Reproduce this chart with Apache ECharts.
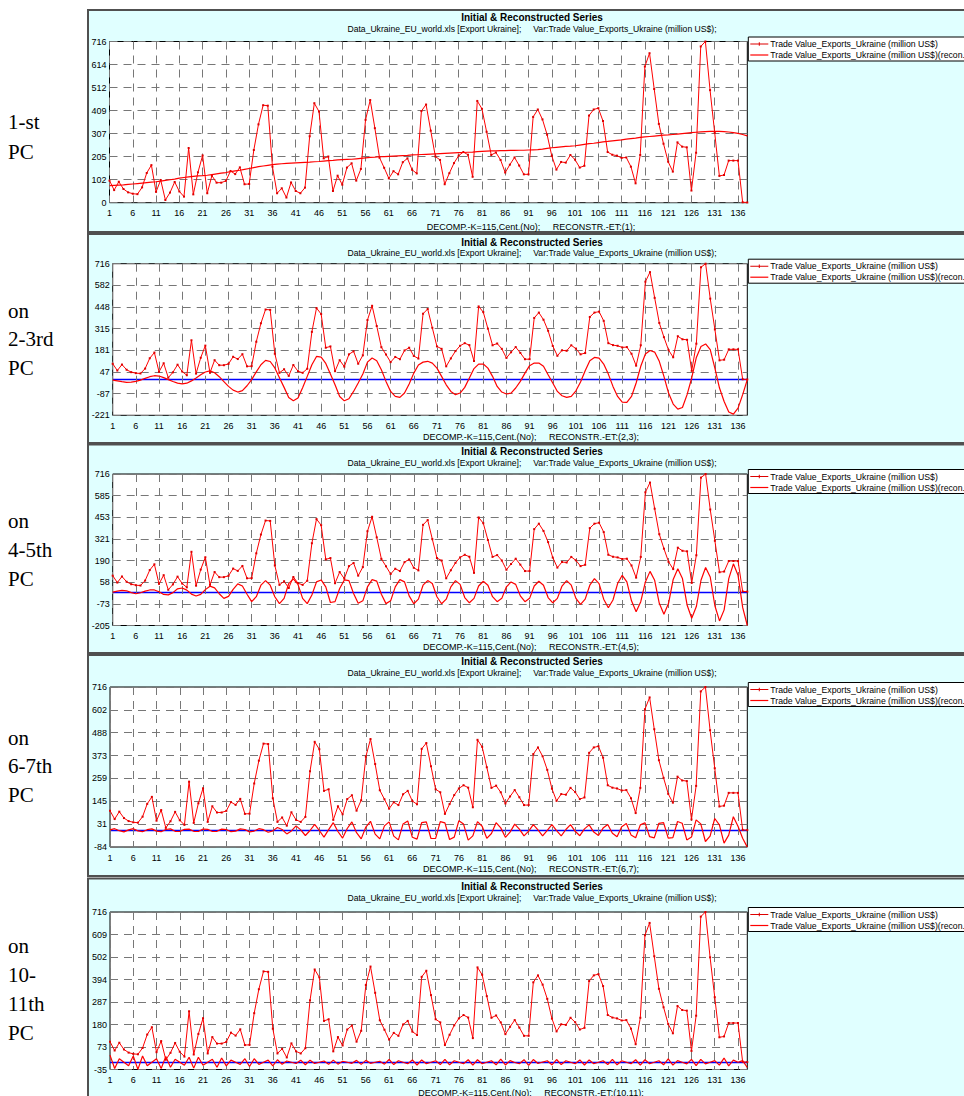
<!DOCTYPE html>
<html><head><meta charset="utf-8">
<script src="https://cdn.jsdelivr.net/npm/echarts@6/dist/echarts.min.js"></script>
<style>
html,body{margin:0;padding:0;overflow:hidden;background:#fff;width:964px;height:1096px}
#c{width:990px;height:1100px}
</style></head>
<body><div id="c"></div>
<script>
const categories = [];
for (let i = 1; i <= 138; i++) categories.push(String(i));

const initialSeries = [
 98,56,93,61,46,40,38,68,132,167,
 48,101,12,45,92,50,27,243,37,135,
 210,42,120,89,89,97,141,127,157,82,
 83,234,348,433,431,160,42,64,23,90,
 52,42,67,295,442,405,197,205,52,120,
 80,156,175,98,150,368,456,331,200,155,
 108,140,126,180,197,146,130,407,436,320,
 205,190,82,131,176,209,225,213,115,452,
 417,315,212,223,190,134,169,201,165,126,
 126,381,414,370,302,208,147,181,178,212,
 191,156,164,387,414,420,363,225,213,209,
 199,201,160,86,212,605,664,505,350,262,
 182,138,268,249,246,54,222,694,716,500,
 310,119,123,187,187,187,2,1];

const rc1 = [
 76,77,78,79,81,83,85,87,89,91,
 93,96,99,102,105,109,112,115,117,119,
 120,122,125,128,131,134,138,141,144,148,
 152,156,160,163,166,169,171,173,175,176,
 177,178,179,180,182,183,185,187,188,190,
 191,192,193,195,197,199,201,202,204,205,
 206,207,208,209,210,212,213,214,215,216,
 217,218,219,220,221,222,223,224,225,227,
 228,229,230,230,231,231,232,232,233,233,
 234,235,236,238,241,244,246,248,250,251,
 253,256,259,262,264,267,270,272,275,277,
 279,282,285,287,290,292,294,296,298,300,
 301,303,305,307,309,311,313,315,316,317,
 317,317,316,314,311,308,303,297];

const rc23 = [
 -3,-8,-13,-17,-16,-11,-3,8,18,24,
 22,12,0,-12,-22,-26,-22,-8,10,30,
 47,54,42,18,-12,-42,-65,-77,-68,-38,
 0,48,92,119,112,72,12,-48,-110,-131,
 -114,-50,20,92,143,139,100,35,-32,-104,
 -131,-118,-73,-21,35,108,133,117,61,-11,
 -73,-104,-110,-83,-27,40,90,108,113,102,
 71,20,-32,-73,-93,-83,-48,10,68,96,
 96,71,20,-42,-77,-89,-83,-52,-11,40,
 86,102,102,82,30,-21,-73,-100,-110,-104,
 -69,-15,55,117,137,133,96,34,-42,-104,
 -139,-141,-104,-21,82,158,180,170,113,20,
 -83,-151,-182,-172,-93,10,137,205,220,185,
 71,-52,-135,-200,-213,-176,-93,0];

const rc45 = [
 -2,4,8,6,-5,-12,-6,4,11,11,
 0,-16,-19,-5,18,23,10,-14,-26,-16,
 13,34,24,-12,-40,-28,15,48,35,-15,
 -60,-30,40,68,40,-30,-72,-40,50,78,
 45,-40,-72,-20,60,72,30,-65,-60,20,
 72,68,-10,-70,-55,30,74,65,-15,-72,
 -55,30,74,60,-25,-73,-45,40,68,50,
 -30,-73,-45,30,68,45,-35,-67,-40,35,
 64,40,-30,-60,-40,30,60,45,-25,-60,
 -40,35,64,40,-35,-67,-40,35,68,40,
 -40,-77,-45,40,80,50,-45,-97,-50,50,
 100,60,-55,-121,-60,60,124,70,-70,-137,
 -70,75,140,80,-80,-161,-90,70,148,90,
 -85,-177,-110,80,170,100,-95,-205];

const rc67 = [
 2,8,-2,-8,2,8,-3,-7,3,7,
 -4,-7,4,7,-5,-6,5,6,-5,-6,
 6,5,-6,-5,6,4,-7,-4,7,4,
 -8,-4,8,3,-10,-3,14,4,-18,-3,
 22,2,-26,-1,30,-1,-34,3,38,-6,
 -39,9,42,-12,-43,16,45,-19,-43,22,
 42,-29,-48,32,47,-35,-44,38,42,-41,
 -40,43,37,-46,-34,48,31,-49,-28,43,
 20,-40,-16,38,12,-35,-9,31,6,-28,
 -4,28,2,-28,0,28,-2,-28,4,28,
 -5,-27,7,27,-9,-26,11,29,-15,-32,
 18,34,-23,-37,27,38,-32,-38,35,38,
 -39,-37,44,35,-48,-34,52,32,-56,-29,
 59,27,-64,-24,68,20,-40,-84];

const rc1011 = [
 34,-30,17,0,-17,30,-34,30,-17,0,17,-30,
 28,-24,14,0,-14,24,-28,24,-14,0,14,-24,
 20,-17,10,0,-10,17,-20,17,-10,0,10,-17,
 12,-10,6,0,-6,10,-12,10,-6,0,6,-10,
 10,-9,5,0,-5,9,-10,9,-5,0,5,-9,
 13,-11,7,0,-7,11,-13,11,-7,0,7,-11,
 14,-12,7,0,-7,12,-14,12,-7,0,7,-12,
 15,-13,8,-1,-7,12,-15,13,-6,1,7,-12,
 13,-11,7,0,-7,11,-13,11,-7,0,7,-11,
 14,-12,7,0,-7,12,-14,12,-7,0,7,-12,
 16,-14,8,0,-8,14,-16,14,-8,0,8,-14,
 20,-17,10,0,8,-25];

const yTicks1 = ['0','102','205','307','409','512','614','716'];
const yTicks2 = ['-221','-87','47','181','315','448','582','716'];
const yTicks3 = ['-205','-73','58','190','321','453','585','716'];
const yTicks4 = ['-84','31','145','259','373','488','602','716'];
const yTicks5 = ['-35','73','180','287','394','502','609','716'];

const yRanges = [[0,716],[-220.5,716],[-205,716],[-83.5,716],[-34.5,716]];
const reconSets = ['(1)','(2,3)','(4,5)','(6,7)','(10,11)'];
const sideLabels = [['1-st','PC'],['on','2-3rd','PC'],['on','4-5th','PC'],['on','6-7th','PC'],['on','10-','11th','PC']];

const NAME_INIT = 'Trade Value_Exports_Ukraine (million US$)';
const NAME_REC = 'Trade Value_Exports_Ukraine (million US$)(recon.';
const TITLE = 'Initial & Reconstructed Series';
const SUBTITLE = 'Data_Ukraine_EU_world.xls [Export Ukraine];\u00a0\u00a0\u00a0\u00a0\u00a0Var:Trade Value_Exports_Ukraine (million US$);';

const layout = [
 {fT:10,  fB:232,  tY:17,  sY:28.5,  pT:41.5, pB:202.7, pL:109.5, bY:226.5, side:[122,152]},
 {fT:234, fB:443,  tY:242, sY:253, pT:263.7, pB:415.3, pL:112.7, bY:437, side:[311,339,368]},
 {fT:444.5, fB:653, tY:451.5, sY:462.5, pT:474, pB:625.5, pL:112.7, bY:647, side:[521,550,579]},
 {fT:655, fB:876,  tY:661.5, sY:672.5, pT:687, pB:847, pL:110, bY:869, side:[738,766,795]},
 {fT:878.5, fB:1102, tY:886.5, sY:897.5, pT:912, pB:1069.5, pL:110, bY:1093, side:[946,975,1004,1033]}
];
const PR = 747.3;
const FONT = '"Liberation Sans", Arial, sans-serif';
const yTicks = [yTicks1,yTicks2,yTicks3,yTicks4,yTicks5];
const recon = [rc1,rc23,rc45,rc67,rc1011];
const gridColor = '#777777';
const CLEAR = 'rgba(0,0,0,0)';

const grids = [], xAxes = [], yAxes = [], series = [], legends = [], graphics = [];

layout.forEach((L, p) => {
  graphics.push({type:'rect', z:-100, shape:{x:88, y:L.fT, width:900, height:L.fB-L.fT},
    style:{fill:'#E0FFFF', stroke:'#505050', lineWidth:2}});
  graphics.push({type:'text', z:10, x:532, y:L.tY, style:{text:TITLE, fontFamily:FONT, fontSize:10, fontWeight:'bold', fill:'#000', align:'center', verticalAlign:'middle'}});
  graphics.push({type:'text', z:10, x:532, y:L.sY, style:{text:SUBTITLE, fontFamily:FONT, fontSize:8.6, fill:'#000', align:'center', verticalAlign:'middle'}});
  graphics.push({type:'text', z:10, x:531, y:L.bY, style:{text:'DECOMP.-K=115,Cent.(No);\u00a0\u00a0\u00a0\u00a0\u00a0RECONSTR.-ET:' + reconSets[p] + ';', fontFamily:FONT, fontSize:9, fill:'#000', align:'center', verticalAlign:'middle'}});
  sideLabels[p].forEach((t, k) => {
    graphics.push({type:'text', z:10, x:8, y:L.side[k], style:{text:t, fontFamily:'"Liberation Serif", "Times New Roman", serif', fontSize:21, fill:'#000', align:'left', verticalAlign:'middle'}});
  });

  grids.push({left:L.pL, top:L.pT, width:PR-L.pL, height:L.pB-L.pT, show:true, backgroundColor:'#fff', borderColor:'#000', borderWidth:1, containLabel:false});
  xAxes.push({type:'category', gridIndex:p, data:categories, boundaryGap:false,
    axisLine:{show:false, onZero:false}, axisTick:{show:false},
    axisLabel:{interval:4, fontFamily:FONT, fontSize:9, color:'#000', margin:6},
    splitLine:{show:true, interval:4, lineStyle:{color:gridColor, type:[8,6], width:1}}});
  const ticks = yTicks[p];
  yAxes.push({type:'value', gridIndex:p, position:'left', min:0, max:ticks.length-1, interval:1,
    axisLine:{show:false}, axisTick:{show:false},
    axisLabel:{formatter:(v)=>ticks[Math.round(v)], fontFamily:FONT, fontSize:9, color:'#000', margin:3},
    splitLine:{show:true, lineStyle:{color:gridColor, type:[8,6], width:1}}});
  // real-value axis; its split line at value 0 is the blue zero line (min is a multiple of interval)
  const lo = yRanges[p][0];
  const zeroAxis = p > 0;
  yAxes.push({type:'value', gridIndex:p, position:'right', min:lo, max:yRanges[p][1],
    interval: zeroAxis ? -lo : undefined,
    axisLine:{show:false, onZero:false}, axisTick:{show:false}, axisLabel:{show:false},
    splitLine:{show:zeroAxis, lineStyle:{color:[CLEAR,'#0000ff',CLEAR,CLEAR,CLEAR,CLEAR,CLEAR,CLEAR,CLEAR,CLEAR,CLEAR,CLEAR,CLEAR,CLEAR,CLEAR,CLEAR,CLEAR,CLEAR,CLEAR,CLEAR,CLEAR,CLEAR,CLEAR,CLEAR,CLEAR], width:1.3, type:'solid'}}});

  series.push({type:'line', name:NAME_INIT, xAxisIndex:p, yAxisIndex:2*p+1, data:initialSeries,
    symbol:'rect', symbolSize:2, showSymbol:true, showAllSymbol:true, color:'#ff0000',
    lineStyle:{color:'#ff0000', width:1}, itemStyle:{color:'#dd0000'}, silent:true, z:3});
  series.push({type:'line', name:NAME_REC, xAxisIndex:p, yAxisIndex:2*p+1, data:recon[p],
    symbol:'none', showSymbol:false, color:'#ff0000', lineStyle:{color:'#ff0000', width:1.2}, silent:true, z:4});

  legends.push({orient:'vertical', left:748.3, top:L.pT-4.5, itemWidth:18, itemHeight:6, itemGap:1,
    padding:[2,4,1,2], backgroundColor:'#fff', borderColor:'#000', borderWidth:1, borderRadius:0,
    selectedMode:false, symbolKeepAspect:true,
    textStyle:{fontFamily:FONT, fontSize:8.7, color:'#000', lineHeight:10, padding:[0,0,0,-3]},
    data:[{name:NAME_INIT, icon:'path://M0,4H18V5H0Z M8.5,2.8H9.5V6.2H8.5Z'},
          {name:NAME_REC, icon:'path://M0,4H18V5.2H0Z'}]});
});

const chart = echarts.init(document.getElementById('c'), null, {renderer:'svg', width:990, height:1100});
chart.setOption({
  animation:false,
  backgroundColor:'#fff',
  grid:grids, xAxis:xAxes, yAxis:yAxes, series:series, legend:legends,
  graphic:{elements:graphics}
});
</script>
</body></html>
